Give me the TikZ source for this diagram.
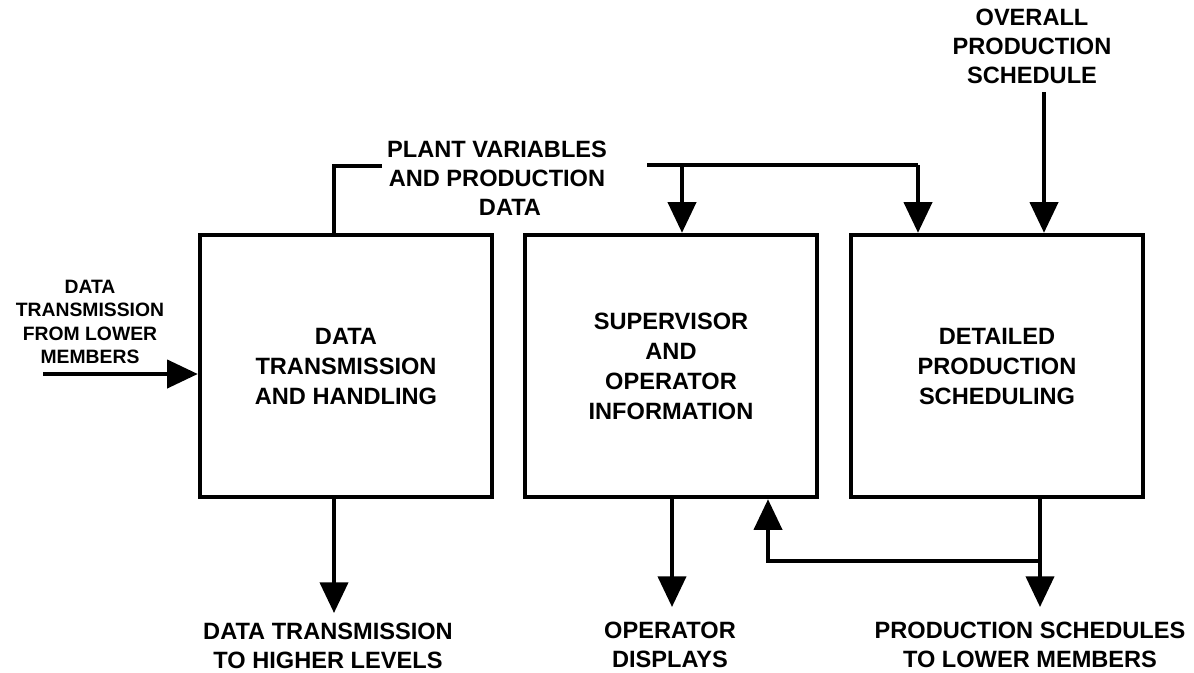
\documentclass[tikz,border=0pt]{standalone}
\usepackage{fontspec}
\setmainfont{Liberation Sans}
\usetikzlibrary{arrows.meta}

\begin{document}
\begin{tikzpicture}[x=0.75pt,y=-0.75pt,
  big/.style={font=\bfseries\fontsize{17.7}{21.8}\selectfont, align=center, inner sep=0pt},
  small/.style={font=\bfseries\fontsize{14.5}{17.5}\selectfont, align=center, inner sep=0pt},
  block/.style={draw, line width=3.3pt, minimum width=219pt, minimum height=196.5pt,
    inner sep=0pt, font=\bfseries\fontsize{17.7}{22.5}\selectfont, align=center},
  wire/.style={line width=3pt},
  arr/.style={line width=3pt, -{Triangle[length=23pt,width=21pt]}}]

\useasboundingbox (0,0) rectangle (1194,672);

% the three function blocks
\node[block] (box1) at (346,366) {DATA\\TRANSMISSION\\AND HANDLING};
\node[block] (box2) at (671,366) {SUPERVISOR\\AND\\OPERATOR\\INFORMATION};
\node[block] (box3) at (997,366) {DETAILED\\PRODUCTION\\SCHEDULING};

% labels
\node[big] (overall) at (1032,46) {OVERALL\\PRODUCTION\\SCHEDULE};
\node[big] (plant) at (497,178) {PLANT VARIABLES\\AND PRODUCTION\\\hspace*{19.5pt}DATA};
\node[small] (lower) at (90,322) {DATA\\TRANSMISSION\\FROM LOWER\\MEMBERS};
\node[big] (higher) at (328,646) {DATA TRANSMISSION\\TO HIGHER LEVELS};
\node[big] (displays) at (670,645) {OPERATOR\\DISPLAYS};
\node[big] (schedules) at (1030,645) {PRODUCTION SCHEDULES\\TO LOWER MEMBERS};

% connector end points
\coordinate (inL) at (43,374);
\coordinate (pvL) at (382,166);
\coordinate (pvR) at (647,165);
\coordinate (j2) at (682,165);
\coordinate (j3) at (918,165);
\coordinate (os) at (1044,92);
\coordinate (out1) at (334,613);
\coordinate (out2) at (672,607);
\coordinate (out3) at (1040,607);
\coordinate (fbR) at (1040,561);
\coordinate (fbL) at (768,561);

% incoming data from lower members
\draw[arr] (inL) -- (inL -| box1.west);

% plant variables and production data
\draw[wire] (pvL) -| (out1 |- box1.north);
\draw[wire] (pvR) -- (j3);
\draw[arr] (j2) -- (j2 |- box2.north);
\draw[arr] (j3) -- (j3 |- box3.north);

% overall production schedule
\draw[arr] (os) -- (os |- box3.north);

% outputs
\draw[arr] (out1 |- box1.south) -- (out1);
\draw[arr] (out2 |- box2.south) -- (out2);
\draw[arr] (out3 |- box3.south) -- (out3);

% schedules fed back to the operator information block
\draw[arr] (fbR) -- (fbL) -- (fbL |- box2.south);

\end{tikzpicture}
\end{document}
